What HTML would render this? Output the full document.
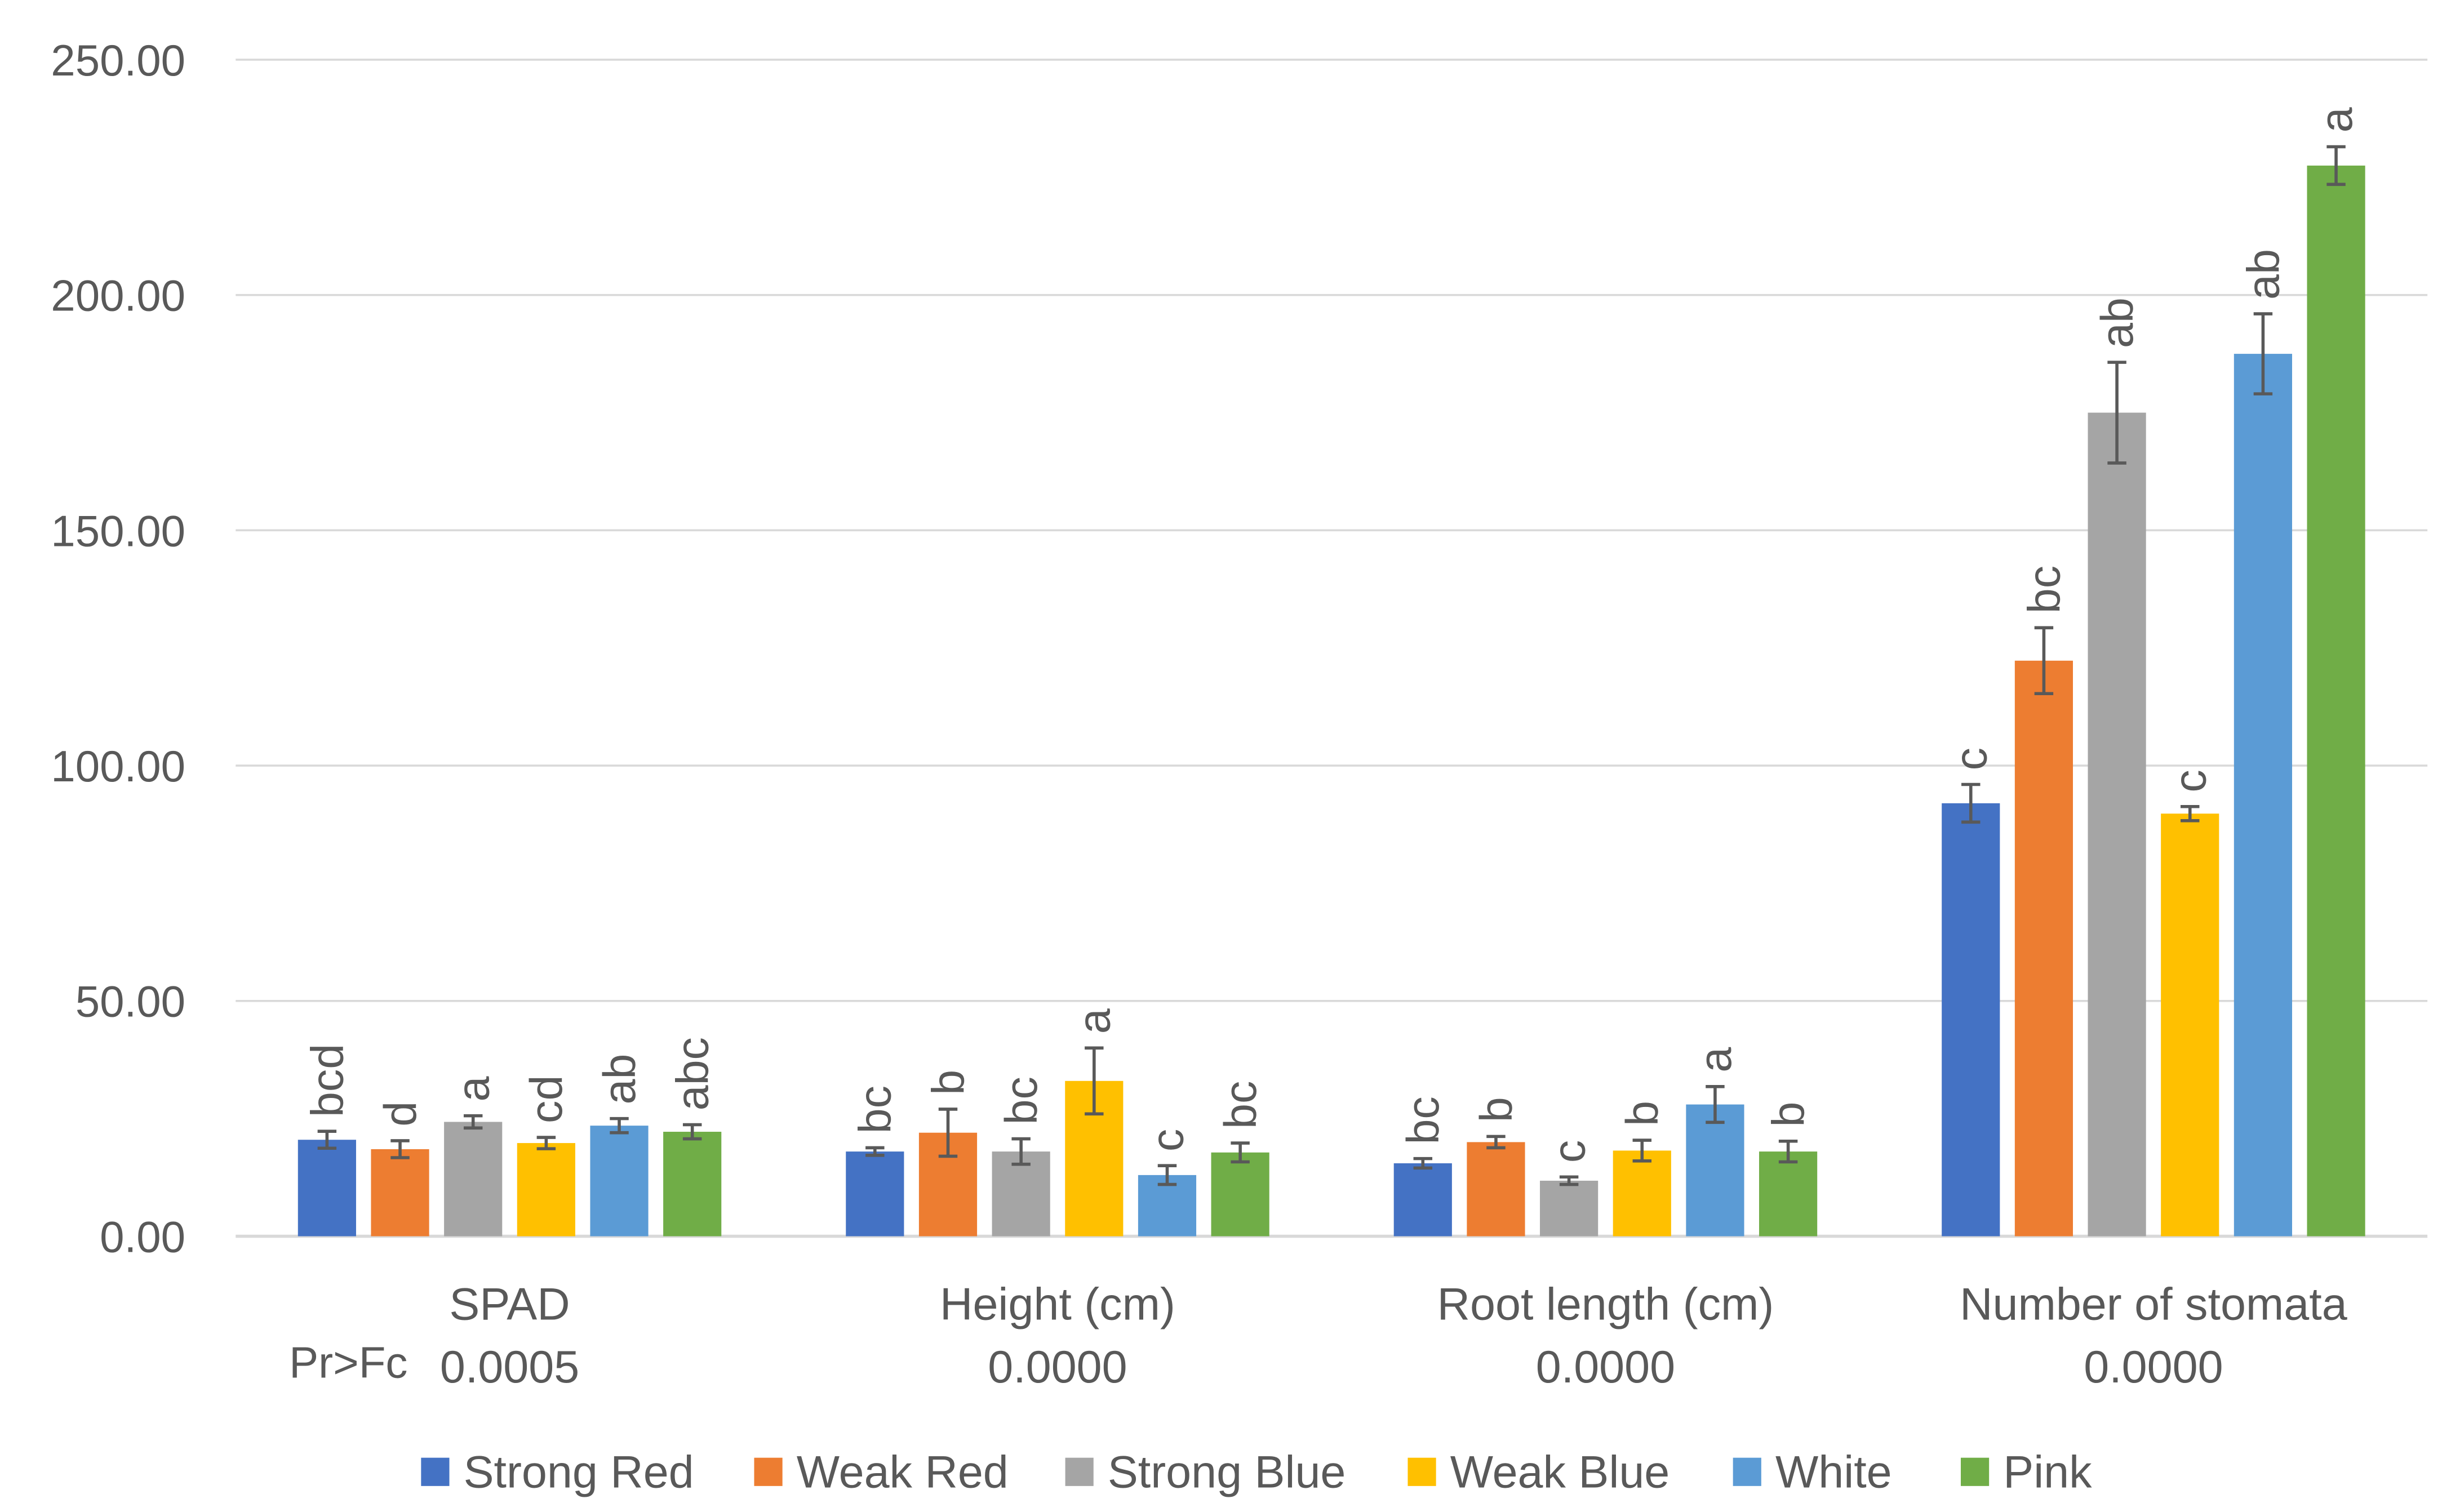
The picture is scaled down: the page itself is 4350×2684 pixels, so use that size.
<!DOCTYPE html>
<html><head><meta charset="utf-8"><style>
html,body{margin:0;padding:0;background:#fff;}
svg{display:block;font-family:"Liberation Sans",sans-serif;}
</style></head><body>
<svg id="chart" width="4350" height="2684" viewBox="0 0 1560 962.55" xmlns="http://www.w3.org/2000/svg"></svg>
<script>
const categories = ["SPAD","Height (cm)","Root length (cm)","Number of stomata"];
const pValues = ["0.0005","0.0000","0.0000","0.0000"];
const seriesNames = ["Strong Red","Weak Red","Strong Blue","Weak Blue","White","Pink"];
const seriesColors = ["#4472c4","#ed7d31","#a5a5a5","#ffc000","#5b9bd5","#70ad47"];
const strongRed = [20.5,18.0,15.5,92.0];
const weakRed = [18.5,22.0,20.0,122.3];
const strongBlue = [24.3,18.0,11.8,175.0];
const weakBlue = [19.8,33.0,18.2,89.8];
const white = [23.5,13.0,28.0,187.5];
const pink = [22.2,17.8,18.0,227.5];
const errStrongRed = [1.8,0.8,1.0,4.0];
const errWeakRed = [1.8,5.0,1.2,7.0];
const errStrongBlue = [1.3,2.7,0.8,10.7];
const errWeakBlue = [1.2,7.0,2.2,1.5];
const errWhite = [1.5,2.0,3.8,8.5];
const errPink = [1.5,2.0,2.2,4.0];
const letStrongRed = ["bcd","bc","bc","c"];
const letWeakRed = ["d","b","b","bc"];
const letStrongBlue = ["a","bc","c","ab"];
const letWeakBlue = ["cd","a","b","c"];
const letWhite = ["ab","c","a","ab"];
const letPink = ["abc","bc","b","a"];
const yTicks = [0,50,100,150,200,250];
const yTickLabels = ["0.00","50.00","100.00","150.00","200.00","250.00"];

const series=[strongRed,weakRed,strongBlue,weakBlue,white,pink];
const errs=[errStrongRed,errWeakRed,errStrongBlue,errWeakBlue,errWhite,errPink];
const lets=[letStrongRed,letWeakRed,letStrongBlue,letWeakBlue,letWhite,letPink];
const svg=document.getElementById('chart');
const NS="http://www.w3.org/2000/svg";
const X0=150,X1=1545,Y0=787,Ytop=38,YMAX=250;
const y=v=>Y0-(v/YMAX)*(Y0-Ytop);
const groupW=(X1-X0)/categories.length;
const gc=i=>X0+groupW*(i+0.5);
const pitch=46.5,bw=37;
const bx=(g,s)=>gc(g)+(s-2.5)*pitch;
function mk(tag,attrs,parent){const e=document.createElementNS(NS,tag);for(const k in attrs)e.setAttribute(k,attrs[k]);(parent||svg).appendChild(e);return e;}
yTicks.forEach((t,i)=>{
  const l=mk('line',{x1:X0,x2:X1,y1:y(t),y2:y(t),stroke:'#d9d9d9','stroke-width':t===0?2:1.3});
  
  
  const tx=mk('text',{x:118,y:y(t)+10,'text-anchor':'end','font-size':28,fill:'#595959'});
  tx.textContent=yTickLabels[i];
  
  
});
series.forEach((vals,s)=>{
  vals.forEach((v,g)=>{
    const cx=bx(g,s);
    const r=mk('rect',{x:cx-bw/2,y:y(v),width:bw,height:Y0-y(v),fill:seriesColors[s]});
    
    
    const e=errs[s][g],t=y(v+e),b=y(v-e);
    const eg=mk('g',{stroke:'#595959','stroke-width':2});
    
    
    mk('line',{x1:cx,x2:cx,y1:t,y2:b},eg);
    mk('line',{x1:cx-6,x2:cx+6,y1:t,y2:t},eg);
    mk('line',{x1:cx-6,x2:cx+6,y1:b,y2:b},eg);
    const lt=mk('text',{x:0,y:0,'font-size':29,fill:'#595959',transform:`translate(${cx+10},${t-9}) rotate(-90)`});
    lt.textContent=lets[s][g];
    
    
  });
});
categories.forEach((c,i)=>{
  const t=mk('text',{x:gc(i),y:840,'text-anchor':'middle','font-size':29,fill:'#595959'});
  t.textContent=c;
  
  
  const p=mk('text',{x:gc(i),y:880,'text-anchor':'middle','font-size':29,fill:'#595959'});
  p.textContent=pValues[i];
  
  
});
const pr=mk('text',{x:184,y:877,'font-size':28,fill:'#595959'});
pr.textContent="Pr>Fc";


const legX=[268,480,678,896,1103,1248];
seriesNames.forEach((n,i)=>{
  const g=mk('g',{});
  
  
  mk('rect',{x:legX[i],y:928,width:18,height:18,fill:seriesColors[i]},g);
  const t=mk('text',{x:legX[i]+27,y:947,'font-size':29,fill:'#595959'},g);
  t.textContent=n;
});
</script>
</body></html>
